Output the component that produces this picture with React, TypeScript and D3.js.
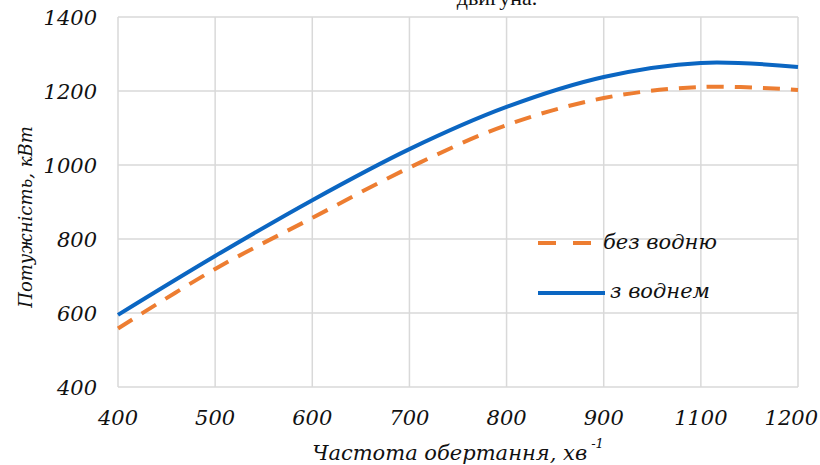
import React, { useEffect, useRef } from 'react'
import * as d3 from 'd3'

// category axis as in the original (there is no 1000 category)
const rpm = ['400', '500', '600', '700', '800', '900', '1100', '1200']
// power, kW
const withoutHydrogen = [558, 719, 857, 993, 1108, 1181, 1211, 1203]
const withHydrogen = [595, 754, 905, 1043, 1157, 1238, 1276, 1265]

const yTicks = [400, 600, 800, 1000, 1200, 1400]

const seriesNames = ['без водню', 'з воднем']

const W = 820
const H = 465
const FONT = '"DejaVu Serif", "Liberation Serif", serif'

function App() {
  const ref = useRef<SVGSVGElement>(null)

  useEffect(() => {
    if (!ref.current) return
    const svg = d3.select(ref.current)
    svg.selectAll('*').remove()

    const x = d3.scalePoint<string>().domain(rpm).range([118, 798])
    const y = d3.scaleLinear().domain([400, 1400]).range([387, 17])

    // grid
    const grid = svg.append('g').attr('stroke', '#d9d9d9').attr('stroke-width', 1.5)
    grid.selectAll('line.v')
      .data(rpm)
      .join('line')
        .attr('class', 'v')
        .attr('x1', d => x(d)!).attr('x2', d => x(d)!)
        .attr('y1', y(1400)).attr('y2', y(400))
    grid.selectAll('line.h')
      .data(yTicks)
      .join('line')
        .attr('class', 'h')
        .attr('x1', x(rpm[0])!).attr('x2', x(rpm[rpm.length - 1])!)
        .attr('y1', d => y(d)).attr('y2', d => y(d))

    // tick labels
    svg.append('g')
      .attr('font-family', FONT)
      .attr('font-style', 'italic')
      .attr('font-size', 21)
      .attr('text-anchor', 'end')
      .selectAll('text')
      .data(yTicks)
      .join('text')
        .attr('x', 97)
        .attr('y', d => y(d))
        .attr('dy', '0.36em')
        .attr('fill', '#111')
        .text(d => d)

    // last label is pulled in so it fits, like in the original
    svg.append('g')
      .attr('font-family', FONT)
      .attr('font-style', 'italic')
      .attr('font-size', 21)
      .selectAll('text')
      .data(rpm)
      .join('text')
        .attr('text-anchor', (d, i) => (i === rpm.length - 1 ? 'end' : 'middle'))
        .attr('x', (d, i) => (i === rpm.length - 1 ? 818 : x(d)!))
        .attr('y', 417)
        .attr('dy', '0.36em')
        .attr('fill', '#111')
        .text(d => d)

    // curves
    const line = d3.line<number>()
      .x((d, i) => x(rpm[i])!)
      .y(d => y(d))
      .curve(d3.curveCatmullRom.alpha(0.5))

    svg.append('path')
      .attr('d', line(withoutHydrogen))
      .attr('fill', 'none')
      .attr('stroke', '#ED7D31')
      .attr('stroke-width', 4)
      .attr('stroke-dasharray', '17,11')

    svg.append('path')
      .attr('d', line(withHydrogen))
      .attr('fill', 'none')
      .attr('stroke', '#0B66C2')
      .attr('stroke-width', 4)

    // legend
    const legend = svg.append('g')
    legend.append('line')
      .attr('x1', 538).attr('x2', 594).attr('y1', 243).attr('y2', 243)
      .attr('stroke', '#ED7D31').attr('stroke-width', 4)
      .attr('stroke-dasharray', '18,17')
    legend.append('line')
      .attr('x1', 538).attr('x2', 605).attr('y1', 293).attr('y2', 293)
      .attr('stroke', '#0B66C2').attr('stroke-width', 4)
    legend.selectAll('text')
      .data(seriesNames)
      .join('text')
        .attr('x', (d, i) => (i === 0 ? 603 : 610))
        .attr('y', (d, i) => (i === 0 ? 243 : 292))
        .attr('dy', '0.3em')
        .attr('font-family', FONT)
        .attr('font-style', 'italic')
        .attr('font-size', 21)
        .attr('fill', '#111')
        .text(d => d)

    // axis titles
    const xt = svg.append('text')
      .attr('x', 458)
      .attr('y', 460)
      .attr('text-anchor', 'middle')
      .attr('font-family', FONT)
      .attr('font-style', 'italic')
      .attr('font-size', 21)
      .attr('fill', '#111')
    xt.append('tspan').text('Частота обертання, хв')
    xt.append('tspan')
      .attr('font-size', 13)
      .attr('dx', 4)
      .attr('dy', -12)
      .text('-1')

    svg.append('text')
      .attr('transform', 'translate(32,217) rotate(-90)')
      .attr('text-anchor', 'middle')
      .attr('font-family', FONT)
      .attr('font-style', 'italic')
      .attr('font-size', 18)
      .attr('fill', '#111')
      .text('Потужність, кВт')

    // title, cut off at the top edge as in the original
    svg.append('text')
      .attr('x', 497)
      .attr('y', 5)
      .attr('text-anchor', 'middle')
      .attr('font-family', '"Liberation Serif", serif')
      .attr('font-size', 22)
      .attr('fill', '#111')
      .text('двигуна.')
  }, [])

  return (
    <svg
      ref={ref}
      width={W}
      height={H}
      style={{ position: 'absolute', left: 0, top: 0, background: '#fff' }}
    />
  )
}

export default App
